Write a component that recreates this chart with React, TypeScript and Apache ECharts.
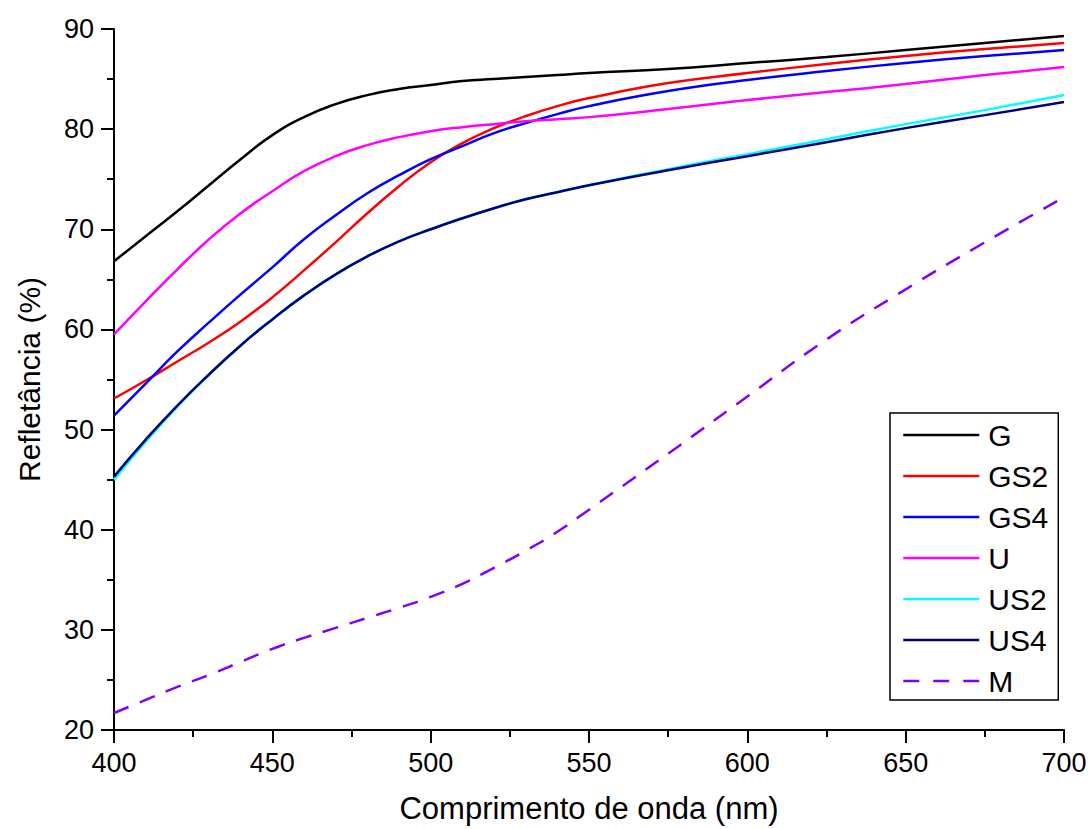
import React, { useEffect, useRef } from "react";
import * as echarts from "echarts";

const wavelengths = [400, 410, 420, 430, 440, 450, 460, 470, 480, 490, 500, 510, 520, 530, 540, 550, 575, 600, 625, 650, 675, 700];

const G = [66.8, 69.3, 71.8, 74.4, 77.0, 79.4, 81.2, 82.5, 83.4, 84.0, 84.4, 84.8, 85.0, 85.2, 85.4, 85.6, 86.0, 86.6, 87.2, 87.9, 88.6, 89.3];
const GS2 = [53.1, 54.9, 56.8, 58.7, 60.8, 63.2, 65.9, 68.7, 71.6, 74.3, 76.7, 78.6, 80.1, 81.3, 82.3, 83.1, 84.6, 85.6, 86.5, 87.3, 88.0, 88.6];
const GS4 = [51.4, 54.6, 57.8, 60.7, 63.5, 66.2, 69.0, 71.4, 73.6, 75.4, 77.0, 78.3, 79.6, 80.6, 81.5, 82.3, 83.8, 84.9, 85.8, 86.6, 87.3, 87.9];
const U = [59.5, 62.8, 66.0, 69.0, 71.6, 73.8, 75.8, 77.3, 78.4, 79.2, 79.8, 80.2, 80.5, 80.8, 81.0, 81.2, 82.0, 82.9, 83.7, 84.5, 85.4, 86.2];
const US2 = [45.0, 48.8, 52.3, 55.5, 58.4, 61.0, 63.4, 65.5, 67.3, 68.8, 70.0, 71.1, 72.1, 73.0, 73.7, 74.4, 76.0, 77.5, 79.0, 80.5, 81.9, 83.4];
const US4 = [45.3, 49.0, 52.4, 55.5, 58.4, 61.0, 63.4, 65.5, 67.3, 68.8, 70.0, 71.1, 72.1, 73.0, 73.7, 74.4, 75.9, 77.3, 78.7, 80.1, 81.4, 82.7];
const M = [21.7, 23.0, 24.3, 25.5, 26.8, 28.1, 29.2, 30.2, 31.2, 32.2, 33.3, 34.6, 36.2, 37.9, 39.8, 42.0, 47.6, 53.3, 59.0, 64.0, 68.7, 73.2];

const seriesNames = ["G", "GS2", "GS4", "U", "US2", "US4", "M"];
const seriesValues = [G, GS2, GS4, U, US2, US4, M];
const seriesColors = ["#000000", "#ff0000", "#0000ff", "#ff00ff", "#00ffff", "#000080", "#8000ff"];

const FONT = "'Liberation Sans', Arial, Helvetica, sans-serif";

export default function App() {
  const ref = useRef<HTMLDivElement>(null);
  useEffect(() => {
    if (!ref.current) return;
    const chart = echarts.init(ref.current, undefined, { renderer: "svg" });
    const series = seriesNames.map((name, i) => ({
      name,
      type: "line",
      smooth: true,
      symbol: "none",
      showSymbol: false,
      data: wavelengths.map((w, j) => [w, seriesValues[i][j]]),
      lineStyle: {
        color: seriesColors[i],
        width: 2.5,
        type: name === "M" ? [16, 12] : "solid",
      },
      itemStyle: { color: seriesColors[i] },
      emphasis: { disabled: true },
    }));
    chart.setOption({
      animation: false,
      backgroundColor: "#ffffff",
      grid: { left: 114, right: 27, top: 29, bottom: 92, containLabel: false },
      legend: {
        orient: "vertical",
        left: 890,
        top: 413,
        data: seriesNames.map((n) =>
          n === "M" ? { name: n, lineStyle: { type: [16, 14], width: 2.5 } } : { name: n }
        ),
        itemWidth: 76,
        itemHeight: 14,
        itemGap: 11,
        padding: [7, 10, 4, 12],
        borderColor: "#000000",
        borderWidth: 1.5,
        backgroundColor: "#ffffff",
        selectedMode: false,
        itemStyle: { opacity: 0, borderWidth: 0 },
        lineStyle: { width: 2.5 },
        textStyle: { fontFamily: FONT, fontSize: 30, color: "#000000", lineHeight: 30, padding: [0, 0, 0, 4] },
      },
      xAxis: {
        type: "value",
        min: 400,
        max: 700,
        interval: 50,
        name: "Comprimento de onda (nm)",
        nameLocation: "middle",
        nameGap: 63,
        nameTextStyle: { fontFamily: FONT, fontSize: 31, color: "#000000" },
        axisLine: { show: true, onZero: false, lineStyle: { color: "#000000", width: 2 } },
        axisTick: { show: true, inside: false, length: 13, lineStyle: { color: "#000000", width: 2 } },
        minorTick: { show: true, splitNumber: 2, length: 7, lineStyle: { color: "#000000", width: 2 } },
        axisLabel: { fontFamily: FONT, fontSize: 27, color: "#000000", margin: 19 },
        splitLine: { show: false },
      },
      yAxis: {
        type: "value",
        min: 20,
        max: 90,
        interval: 10,
        name: "Refletância (%)",
        nameLocation: "middle",
        nameGap: 70,
        nameRotate: 90,
        nameTextStyle: { fontFamily: FONT, fontSize: 30, color: "#000000" },
        axisLine: { show: true, onZero: false, lineStyle: { color: "#000000", width: 2 } },
        axisTick: { show: true, inside: false, length: 13, lineStyle: { color: "#000000", width: 2 } },
        minorTick: { show: true, splitNumber: 2, length: 7, lineStyle: { color: "#000000", width: 2 } },
        axisLabel: { fontFamily: FONT, fontSize: 27, color: "#000000", margin: 20 },
        splitLine: { show: false },
      },
      series,
    });
    return () => chart.dispose();
  }, []);
  return (
    <div
      ref={ref}
      style={{ position: "fixed", left: 0, top: 0, width: 1091, height: 829, background: "#ffffff" }}
    />
  );
}
